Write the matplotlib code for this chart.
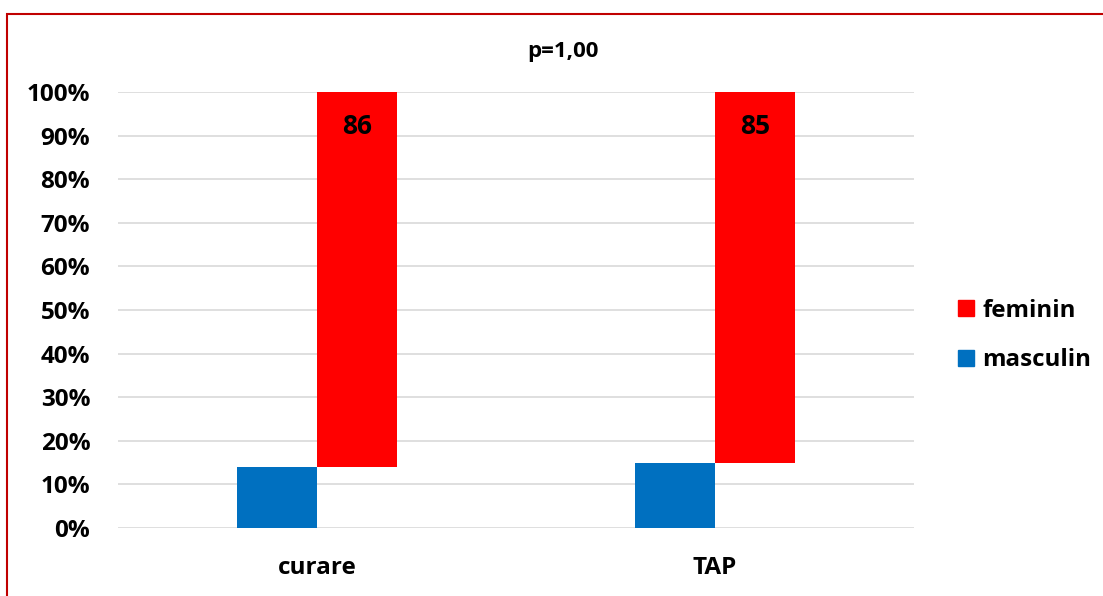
import matplotlib.pyplot as plt
from matplotlib.patches import Patch, Rectangle
from matplotlib.ticker import PercentFormatter
import numpy as np

plt.rcParams["font.family"] = ["Open Sans", "DejaVu Sans"]
plt.rcParams["font.weight"] = "bold"

categories = ["curare", "TAP"]
masculin = [14, 15]
feminin = [86, 85]
title = "p=1,00"

RED = "#FF0000"
BLUE = "#0070C0"


def main():
    fig = plt.figure(figsize=(11.03, 5.96), dpi=100)
    ax = fig.add_axes([0.107, 0.1141, 0.7217, 0.7315])

    x = np.arange(len(categories))
    w = 0.2

    ax.bar(x - w / 2, masculin, w, color=BLUE, label="masculin", zorder=2)
    bars = ax.bar(x + w / 2, feminin, w, bottom=masculin, color=RED,
                  label="feminin", zorder=2)

    for b, v in zip(bars, feminin):
        ax.annotate(str(v), (b.get_x() + b.get_width() / 2, b.get_y() + b.get_height()),
                    xytext=(0, -15), textcoords="offset points", ha="center", va="top",
                    fontsize=19, fontweight="bold", color="black")

    ax.set_xlim(-0.5, len(categories) - 0.5)
    ax.set_ylim(0, 100)
    ax.set_yticks(np.arange(0, 101, 10))
    ax.yaxis.set_major_formatter(PercentFormatter(decimals=0))
    ax.set_xticks(x)
    ax.set_xticklabels(categories)
    ax.tick_params(axis="both", length=0, labelsize=17.5)
    ax.tick_params(axis="x", pad=20)
    ax.tick_params(axis="y", pad=20)
    for lbl in ax.get_xticklabels() + ax.get_yticklabels():
        lbl.set_fontweight("bold")

    ax.grid(axis="y", color="#D9D9D9", linewidth=1.2, zorder=0)
    for s in ax.spines.values():
        s.set_visible(False)

    fig.text(0.51, 0.913, title, ha="center", va="center", fontsize=16,
             fontweight="bold")

    handles = [Patch(color=RED, label="feminin"), Patch(color=BLUE, label="masculin")]
    fig.legend(handles=handles, loc="center left", bbox_to_anchor=(0.858, 0.437),
               frameon=False, fontsize=17.4, handlelength=0.65, handleheight=0.65,
               handletextpad=0.35, labelspacing=1.05, borderpad=0)

    # dark red frame around the chart
    fig.patches.append(Rectangle((7 / 1103, -0.1), 1.2, 1.1 - 14 / 596,
                                 transform=fig.transFigure, fill=False,
                                 edgecolor="#C00000", linewidth=1.5))

    fig.savefig("out.png", dpi=100)


if __name__ == "__main__":
    main()
